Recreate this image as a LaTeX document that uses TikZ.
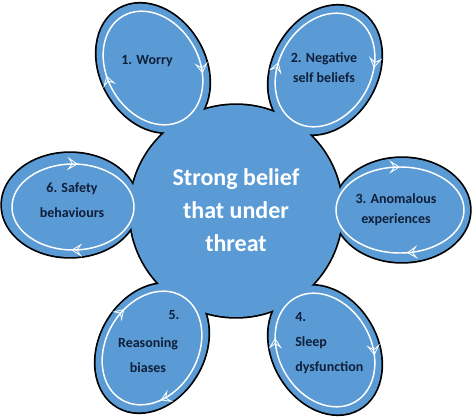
\documentclass[tikz,border=0pt]{standalone}
\usepackage{fontspec}
\setmainfont{Carlito}
\usetikzlibrary{decorations.markings,arrows.meta}
\definecolor{petalblue}{HTML}{5B9BD5}
\definecolor{textnavy}{HTML}{0F1F3A}
\begin{document}
\begin{tikzpicture}[x=0.75pt,y=0.75pt,
  outline/.style={draw=black,line width=2.6pt},
  ring/.style={draw=white,line width=1.1pt},
  tip/.style={},
  ringarrows/.style 2 args={postaction={decorate,decoration={markings,
      mark=at position #1 with {\arrowreversed[white,line width=0.6pt]{Stealth[open,length=8pt,width=10pt,inset=3.5pt]}},
      mark=at position #2 with {\arrowreversed[white,line width=0.6pt]{Stealth[open,length=8pt,width=10pt,inset=3.5pt]}}}}},
  ptext/.style={text=textnavy,font=\bfseries\fontsize{10.5}{15}\selectfont,align=center,inner sep=0pt},
  ptextw/.style={ptext,font=\bfseries\fontsize{10.5}{19}\selectfont},
  ctext/.style={text=white,font=\bfseries\fontsize{18}{24.75}\selectfont,align=center,inner sep=0pt}]
\useasboundingbox (0,0) rectangle (472,-418);
% outline pass
\draw[outline] (236,-211) circle [radius=106];
\foreach \px/\py/\rot in {153/68/120, 325/70/60, 402/210/0, 325/350/-60, 152/348/60, 70/205/0}{
  \draw[outline,shift={(\px,-\py)},rotate=\rot] (0,0) ellipse [x radius=68, y radius=52];
}
% fill pass
\fill[petalblue] (236,-211) circle [radius=106];
\foreach \px/\py/\rot in {153/68/120, 325/70/60, 402/210/0, 325/350/-60, 152/348/60, 70/205/0}{
  \fill[petalblue,shift={(\px,-\py)},rotate=\rot] (0,0) ellipse [x radius=68, y radius=52];
}
% inner rings with arrows
\draw[ring,ringarrows={0.20}{0.66},shift={(153,-68)},rotate=120] (0,0) ellipse [x radius=60, y radius=46];
\draw[ring,ringarrows={0.30}{0.83},shift={(325,-70)},rotate=60] (0,0) ellipse [x radius=60, y radius=46];
\draw[ring,ringarrows={0.25}{0.77},shift={(400,-210)},rotate=0] (0,0) ellipse [x radius=64, y radius=43];
\draw[ring,ringarrows={0.16}{0.64},shift={(325,-350)},rotate=-60] (0,0) ellipse [x radius=60, y radius=46];
\draw[ring,ringarrows={0.19}{0.62},shift={(152,-348)},rotate=60] (0,0) ellipse [x radius=60, y radius=46];
\draw[ring,ringarrows={0.235}{0.745},shift={(73,-207)},rotate=0] (0,0) ellipse [x radius=61, y radius=43];
% texts
\node[ctext] (centre) at (236,-210) {Strong belief\\that under\\threat};
\node[ptext] (t1) at (147,-61) {1. Worry};
\node[ptext] (t2) at (324,-68) {2. Negative\\self beliefs};
\node[ptext] (t3) at (396,-210) {3. Anomalous\\experiences};
\node[ptextw] (t6) at (72,-200) {6. Safety\\behaviours};
\node[ptext] (t5a) at (174,-315) {5.};
\node[ptextw] (t5b) at (148,-355) {Reasoning\\biases};
\node[ptextw,align=left,anchor=west] (t4) at (295,-343) {4.\\Sleep\\dysfunction};
\end{tikzpicture}
\end{document}
